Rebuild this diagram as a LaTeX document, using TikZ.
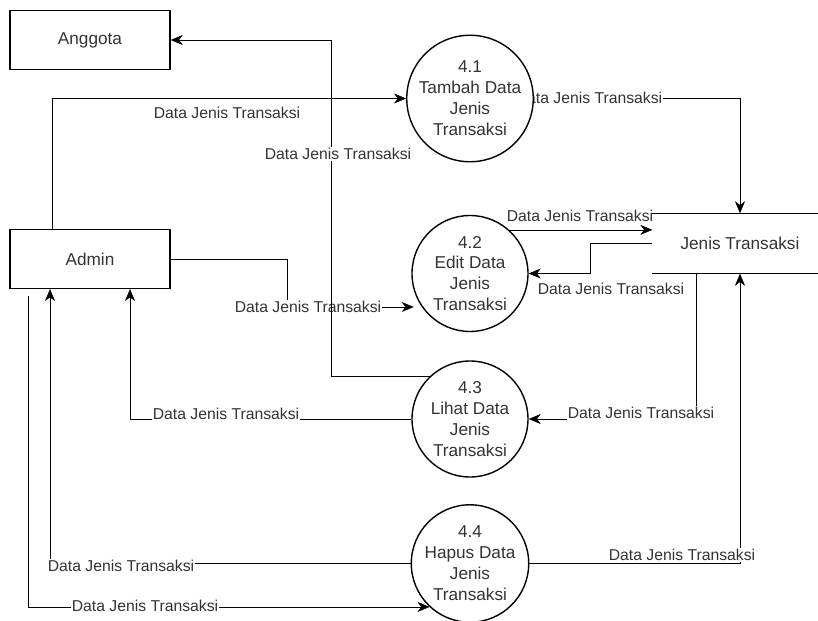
\documentclass[tikz,border=0pt]{standalone}
\usepackage{fontspec}
\setmainfont{Liberation Sans}
\usetikzlibrary{arrows.meta, positioning}
\pgfdeclarelayer{bg}
\pgfsetlayers{bg,main}

\begin{document}
\begin{tikzpicture}[x=0.75pt, y=-0.75pt, line width=1.05pt,
  entity/.style={rectangle, draw, minimum width=120pt, minimum height=44pt, font=\fontsize{12.9}{15.7}\selectfont, text=black!80},
  proc/.style={circle, draw, fill=white, minimum size=87pt, inner sep=0pt, align=center, font=\fontsize{12.9}{15.7}\selectfont, text=black!80},
  store/.style={rectangle, minimum width=130.5pt, minimum height=44.25pt, font=\fontsize{12.9}{15.7}\selectfont, text=black!80},
  line/.style={draw, -{Stealth[length=9pt, width=7.5pt, inset=2.8pt]}},
  lbl/.style={fill=white, inner sep=0.6pt, font=\fontsize{11.8}{14}\selectfont, text=black!80}]
  \useasboundingbox (0,0) rectangle (818,621);
  \node [entity] (anggota) at (90,40) {Anggota};
  \node [entity] (admin) at (90,259) {Admin};
  \node [proc] (p41) at (470,98.5) {4.1\\Tambah Data\\Jenis\\Transaksi};
  \node [proc] (p42) at (470,273.5) {4.2\\Edit Data\\Jenis\\Transaksi};
  \node [proc] (p43) at (470,419) {4.3\\Lihat Data\\Jenis\\Transaksi};
  \node [proc] (p44) at (470,563.5) {4.4\\Hapus Data\\Jenis\\Transaksi};
  \node [store] (jenis) at (740,243.5) {Jenis Transaksi};
  \draw (jenis.north west) -- (jenis.north east) (jenis.south west) -- (jenis.south east);
  \begin{pgfonlayer}{bg}
  \draw [line] (admin.north west) ++(43,0) |- (p41.west) node[lbl] (l1) at (227,113) {Data Jenis Transaksi};
  \draw [line] (p41.east) -| (jenis.north) node[lbl] (l3) at (589,98) {Data Jenis Transaksi};
  \draw [line] (p42.48) -- (p42.48 -| jenis.west) node[lbl] (l4) at (580,216) {Data Jenis Transaksi};
  \draw [line] (jenis.west) -- ++(-62,0) |- (p42.east) node[lbl] (l5) at (611,289) {Data Jenis Transaksi};
  \draw [line] (admin.east) -- ++(117,0) -- ++(0,48) -- ++(126,0) node[lbl] (l6) at (308,307) {Data Jenis Transaksi};
  \draw [line] (p43.133) -- ++(-99,0) |- (anggota.east) node[lbl] (l2) at (338,154) {Data Jenis Transaksi};
  \draw [line] (p43.west) -| ([xshift=30pt]admin.south) node[lbl] (l7) at (226,414) {Data Jenis Transaksi};
  \draw [line] (jenis.south west) ++(44,0) |- (p43.east) node[lbl] (l8) at (641,413) {Data Jenis Transaksi};
  \draw [line] (p44.east) -| (jenis.south) node[lbl] (l9) at (682,555) {Data Jenis Transaksi};
  \draw [line] (p44.west) -| ([xshift=-30pt]admin.south) node[lbl] (l10) at (121,566) {Data Jenis Transaksi};
  \draw [line] ([xshift=-46.5pt, yshift=-5.25pt]admin.south) |- (p44.227) node[lbl] (l11) at (145,606) {Data Jenis Transaksi};
  \end{pgfonlayer}
\end{tikzpicture}
\end{document}
